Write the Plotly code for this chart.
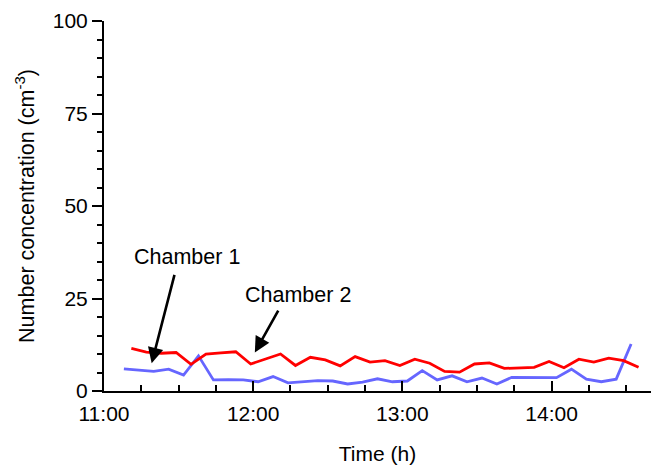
import plotly.graph_objects as go

DAY = "2024-01-01 "

# Chamber 2 (red) sample times and values
ch2_times = ["11:11", "11:17", "11:23", "11:29", "11:35", "11:41", "11:47", "11:53",
             "11:59", "12:05", "12:11", "12:17", "12:23", "12:29", "12:35", "12:41",
             "12:47", "12:53", "12:59", "13:05", "13:11", "13:17", "13:23", "13:29",
             "13:35", "13:41", "13:47", "13:53", "13:59", "14:05", "14:11", "14:17",
             "14:23", "14:29", "14:35"]
ch2_values = [11.5, 10.5, 10.2, 10.4, 7.2, 10.0, 10.3, 10.6,
              7.3, 8.6, 10.0, 6.9, 9.1, 8.4, 6.8, 9.3,
              7.8, 8.2, 6.9, 8.6, 7.5, 5.3, 5.1, 7.3,
              7.6, 6.1, 6.2, 6.4, 8.0, 6.3, 8.6, 7.8,
              8.9, 8.2, 6.4]

# Chamber 1 (blue) sample times and values
ch1_times = ["11:08", "11:14", "11:20", "11:26", "11:32", "11:38", "11:44", "11:50",
             "11:56", "12:02", "12:08", "12:14", "12:20", "12:26", "12:32", "12:38",
             "12:44", "12:50", "12:56", "13:02", "13:08", "13:14", "13:20", "13:26",
             "13:32", "13:38", "13:44", "13:50", "13:56", "14:02", "14:08", "14:14",
             "14:20", "14:26", "14:32"]
ch1_values = [6.0, 5.7, 5.3, 5.9, 4.3, 9.5, 3.0, 3.1,
              3.0, 2.5, 3.9, 2.2, 2.6, 2.8, 2.7, 1.9,
              2.4, 3.3, 2.5, 2.7, 5.5, 3.0, 4.1, 2.5,
              3.5, 1.9, 3.7, 3.6, 3.5, 3.6, 5.9, 3.2,
              2.5, 3.2, 12.7]

x_tick_vals = ["11:00", "12:00", "13:00", "14:00"]
y_tick_vals = [0, 25, 50, 75, 100]

FONT = "Liberation Sans, Arial, Helvetica, sans-serif"

fig = go.Figure()
fig.add_trace(go.Scatter(x=[DAY + t for t in ch1_times], y=ch1_values, mode="lines",
                         line=dict(color="#6666ff", width=2.8), name="Chamber 1"))
fig.add_trace(go.Scatter(x=[DAY + t for t in ch2_times], y=ch2_values, mode="lines",
                         line=dict(color="#ff0000", width=2.8), name="Chamber 2"))

# Annotations: text labels and arrows
fig.add_annotation(x=DAY + "11:33:20", y=36.2, text="Chamber 1", showarrow=False,
                   font=dict(size=21.5, color="black", family=FONT), xref="x", yref="y")
fig.add_annotation(x=DAY + "11:19:10", y=7.5, ax=DAY + "11:28:30", ay=31.8,
                   axref="x", ayref="y", xref="x", yref="y", text="",
                   showarrow=True, arrowhead=2, arrowsize=1.2, arrowwidth=2.6,
                   arrowcolor="black")
fig.add_annotation(x=DAY + "12:18:00", y=25.9, text="Chamber 2", showarrow=False,
                   font=dict(size=21.5, color="black", family=FONT), xref="x", yref="y")
fig.add_annotation(x=DAY + "12:00:40", y=10.4, ax=DAY + "12:10:25", ay=22.1,
                   axref="x", ayref="y", xref="x", yref="y", text="",
                   showarrow=True, arrowhead=2, arrowsize=1.2, arrowwidth=2.6,
                   arrowcolor="black")

fig.update_layout(
    width=656, height=466,
    margin=dict(l=104, r=5, t=21, b=75),
    paper_bgcolor="white", plot_bgcolor="white",
    showlegend=False,
    font=dict(family=FONT, size=21, color="black"),
)

fig.update_xaxes(
    type="date",
    range=[DAY + "11:00", DAY + "14:40"],
    tickvals=[DAY + t for t in x_tick_vals],
    ticktext=x_tick_vals,
    ticks="inside", ticklen=10, tickwidth=1.5, tickcolor="black",
    minor=dict(dtick=15 * 60 * 1000, ticks="inside", ticklen=6, tickwidth=1.5,
               tickcolor="black", showgrid=False),
    showline=True, linecolor="black", linewidth=2,
    showgrid=False, zeroline=False,
    tickfont=dict(size=21),
    ticklabelstandoff=3,
    automargin=False,
    title=dict(text="Time (h)", font=dict(size=21), standoff=22),
)

fig.update_yaxes(
    range=[0, 100],
    tickvals=y_tick_vals,
    ticks="outside", ticklen=10, tickwidth=1.5, tickcolor="black",
    minor=dict(dtick=5, ticks="outside", ticklen=5, tickwidth=1.5,
               tickcolor="black", showgrid=False),
    showline=True, linecolor="black", linewidth=2,
    showgrid=False, zeroline=False,
    tickfont=dict(size=21),
    automargin=False,
    title=dict(text="Number concentration (cm<sup>-3</sup>)", font=dict(size=21.5),
               standoff=12),
)

fig.write_html("out.html")
